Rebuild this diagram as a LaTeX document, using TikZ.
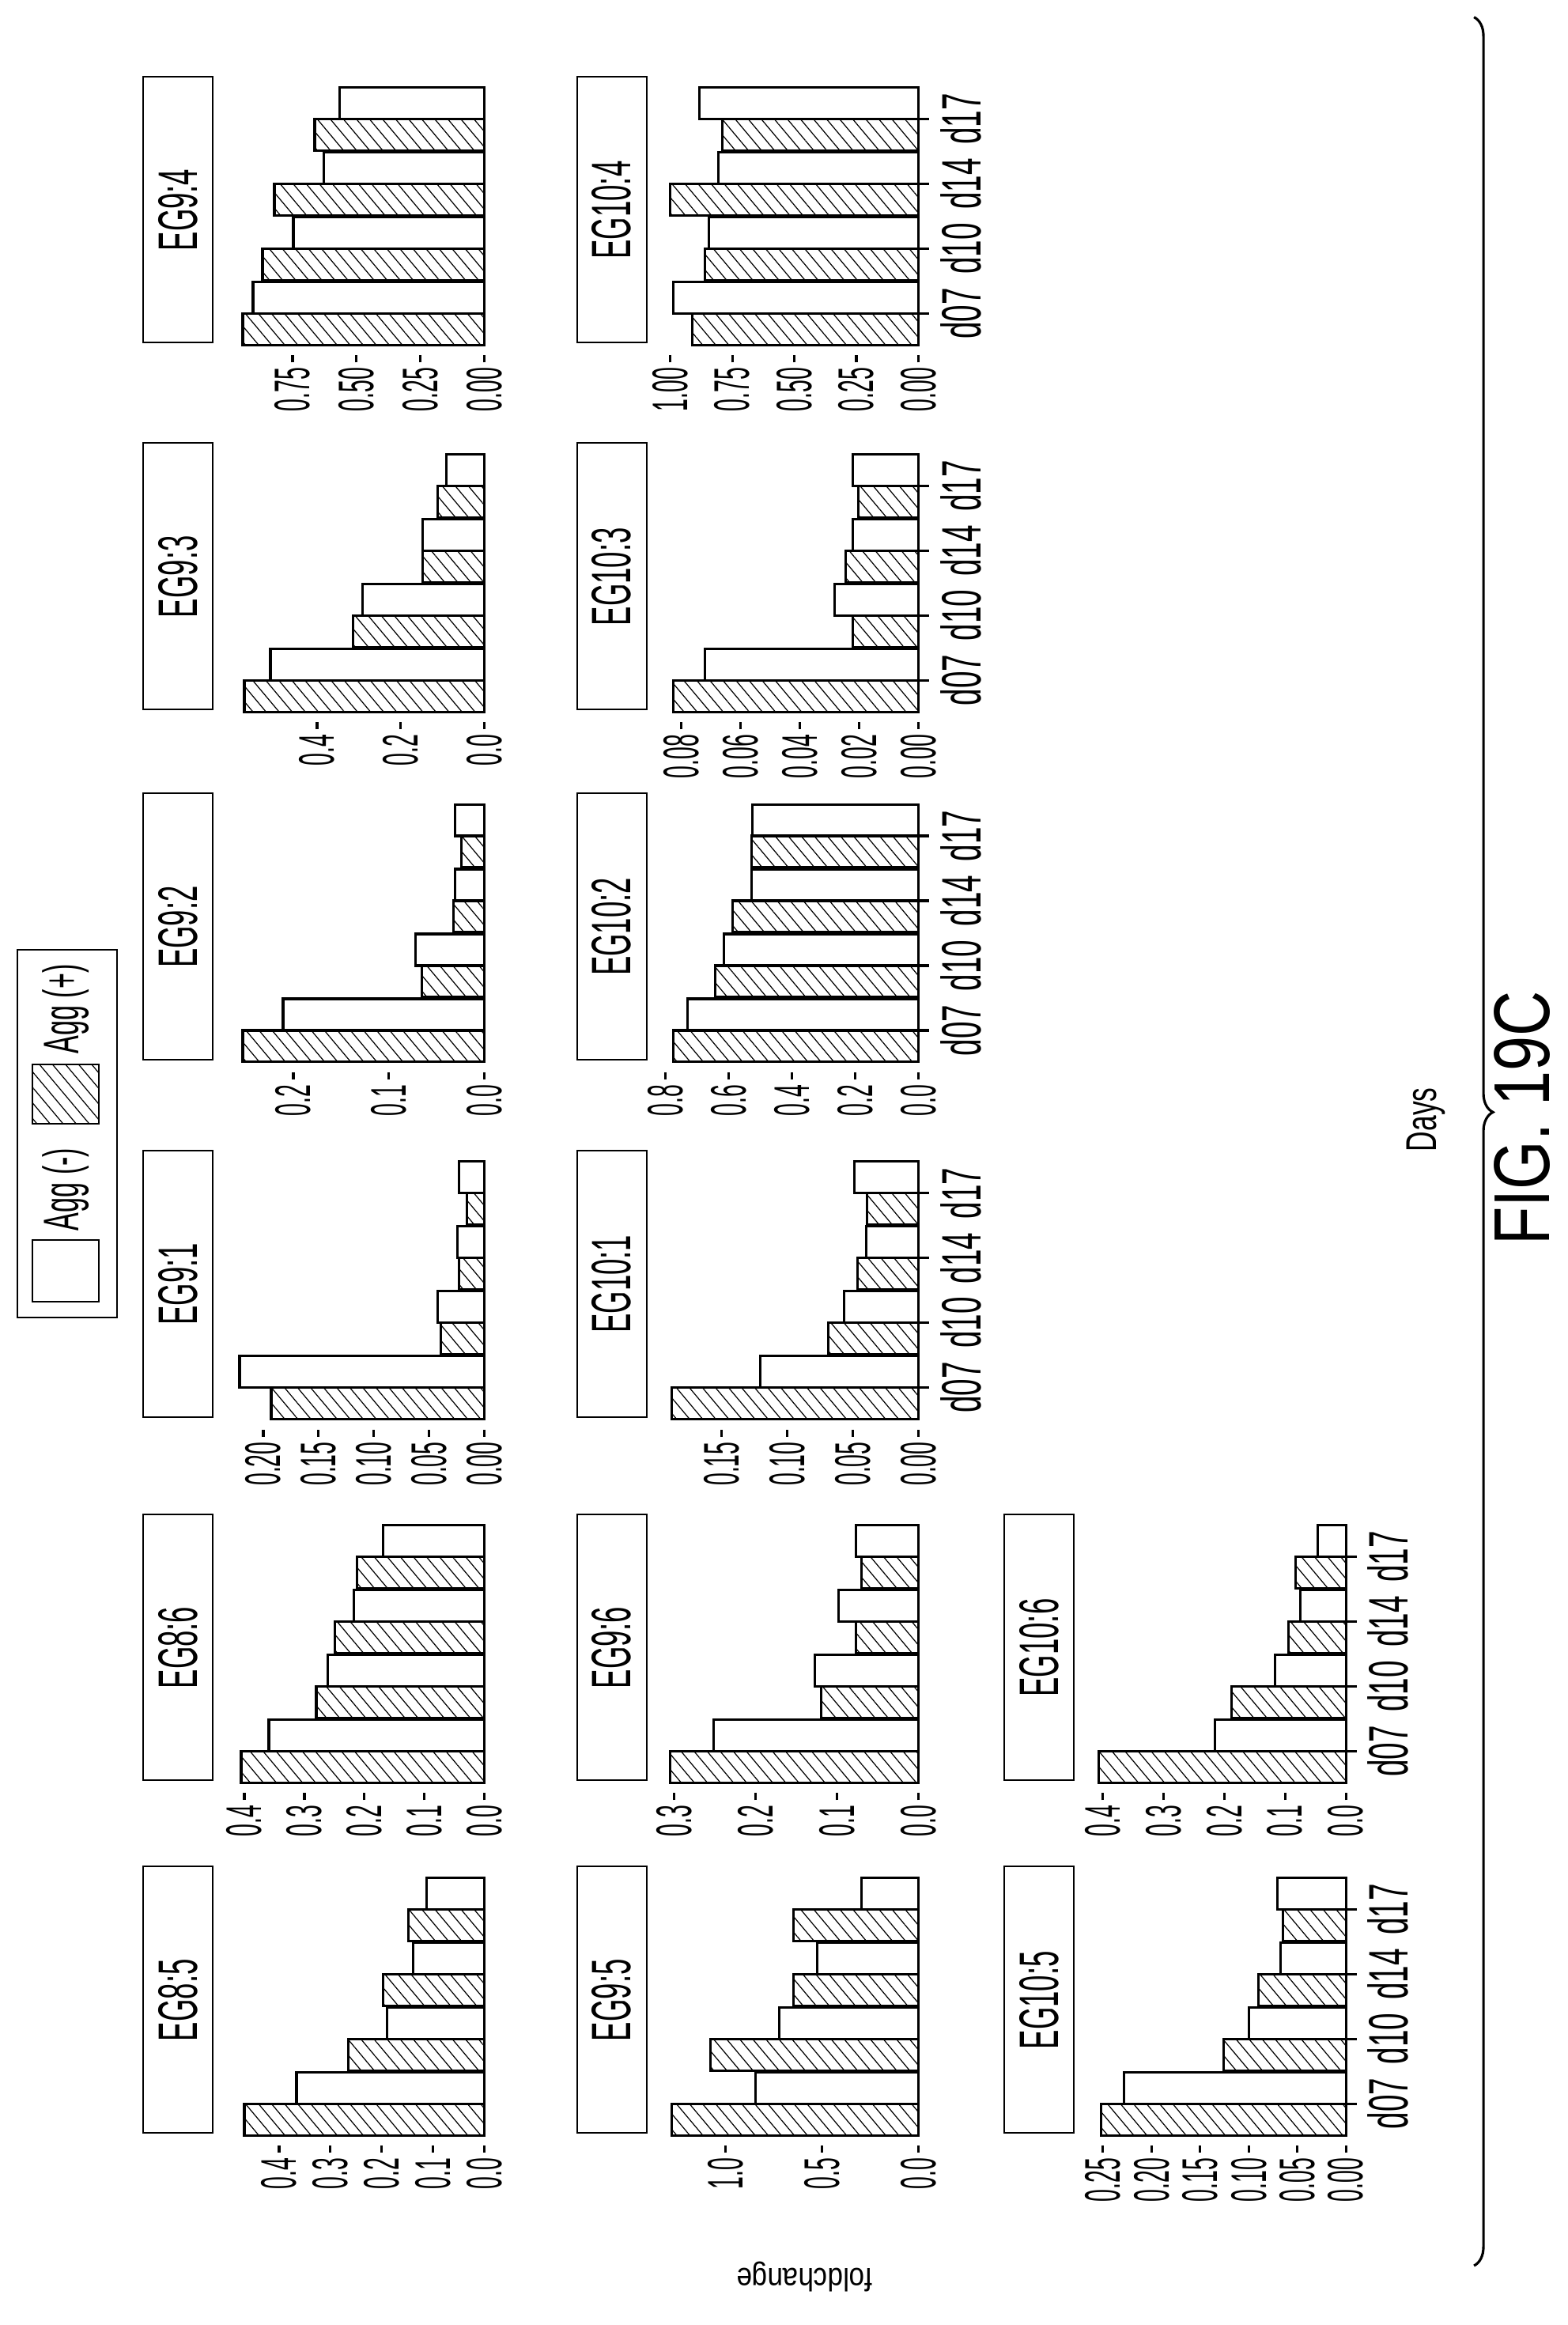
\documentclass[tikz,border=0pt]{standalone}
\usepackage{fontspec}
\setmainfont{Liberation Sans}
\usetikzlibrary{patterns.meta,decorations.pathreplacing}

\newcommand{\nar}[2]{\scalebox{#1}[1]{#2}}
% one facet: #1 left edge, #2 zero line, #3 name, #4 bar pairs (Agg+/Agg-), #5 tick step, #6 tick labels, #7 title
\newcommand{\egpanel}[7]{%
  \draw[stripbox] (#1,#2+344) rectangle (#1+337,#2+432);
  \node[striplbl] (#3-t) at (#1+168,#2+388) {\nar{0.52}{#7}};
  \foreach \a/\b [count=\k from 0] in {#4} {
    \draw[aggp] (#1-3+82*\k,#2) rectangle ++(40,\a);
    \draw[aggm] (#1+37+82*\k,#2) rectangle ++(40,\b);
  }
  \foreach \t [count=\j from 0] in {#6} {
    \draw[tickln] (#1-25,#2+\j*#5) -- ++(9,0);
    \node[ticklbl,anchor=east] (#3-y\j) at (#1-31,#2+\j*#5) {\nar{0.45}{\t}};
  }
}
% day axis under a facet
\newcommand{\egdays}[3]{%
  \foreach \d [count=\k from 0] in {d07,d10,d14,d17} {
    \draw[tickln] (#1+37+82*\k,#2) -- ++(0,-14);
    \node[daylbl,anchor=north] (#3-d\k) at (#1+37+82*\k,#2-27) {\nar{0.55}{\d}};
  }
}

\begin{document}
\begin{tikzpicture}[
    stripbox/.style={draw,line width=0.6pt},
    striplbl/.style={inner sep=0pt,font=\fontsize{20}{20}\selectfont},
    aggp/.style={draw,line width=0.9pt,pattern={Lines[angle=-50,distance=3.6pt,line width=0.35pt]}},
    aggm/.style={draw,line width=0.9pt,fill=white},
    tickln/.style={line width=0.9pt},
    ticklbl/.style={inner sep=0pt,font=\fontsize{18}{18}\selectfont},
    daylbl/.style={inner sep=0pt,font=\fontsize{20}{20}\selectfont}
  ]
  \useasboundingbox (0,0) rectangle (19.82,29.40);
  \begin{scope}[shift={(19.82,0)},rotate=90,x=0.01cm,y=0.01cm,
      every node/.append style={transform shape}]
    % legend
    \draw[stripbox] (1275,1835) rectangle (1740,1961);
    \draw[aggm,line width=0.6pt] (1295,1858) rectangle (1373,1942);
    \node[striplbl,font=\fontsize{18}{18}\selectfont] (legm) at (1437,1900) {\nar{0.54}{Agg (-)}};
    \draw[aggp,line width=0.6pt] (1520,1858) rectangle (1595,1942);
    \node[striplbl,font=\fontsize{18}{18}\selectfont] (legp) at (1665,1900) {\nar{0.54}{Agg (+)}};

    % first row
    \egpanel{243}{1370}{eg85}{304/238,172/123,128/90,96/73}{65}{0.0,0.1,0.2,0.3,0.4}{EG8:5}
    \egpanel{689}{1370}{eg86}{308/273,213/198,189/165,161/128}{76}{0.0,0.1,0.2,0.3,0.4}{EG8:6}
    \egpanel{1149}{1370}{eg91}{270/310,55/59,32/34,22/32}{70}{0.00,0.05,0.10,0.15,0.20}{EG9:1}
    \egpanel{1601}{1370}{eg92}{306/255,79/87,39/37,29/37}{121}{0.0,0.1,0.2}{EG9:2}
    \egpanel{2044}{1370}{eg93}{304/271,166/154,78/78,59/48}{106}{0.0,0.2,0.4}{EG9:3}
    \egpanel{2508}{1370}{eg94}{306/293,281/242,266/203,215/183}{81}{0.00,0.25,0.50,0.75}{EG9:4}
    % second row
    \egpanel{243}{821}{eg95}{312/206,263/176,158/128,158/72}{122}{0.0,0.5,1.0}{EG9:5}
    \egpanel{689}{821}{eg96}{314/259,123/131,79/101,72/79}{103}{0.0,0.1,0.2,0.3}{EG9:6}
    \egpanel{1149}{821}{eg101}{312/200,114/94,77/66,65/81}{83}{0.00,0.05,0.10,0.15}{EG10:1}
    \egpanel{1601}{821}{eg102}{310/292,257/246,235/211,211/210}{80}{0.0,0.2,0.4,0.6,0.8}{EG10:2}
    \egpanel{2044}{821}{eg103}{310/270,83/106,92/83,76/83}{75}{0.00,0.02,0.04,0.06,0.08}{EG10:3}
    \egpanel{2508}{821}{eg104}{286/310,270/265,314/253,248/277}{78.5}{0.00,0.25,0.50,0.75,1.00}{EG10:4}
    \egdays{1149}{821}{eg101}
    \egdays{1601}{821}{eg102}
    \egdays{2044}{821}{eg103}
    \egdays{2508}{821}{eg104}
    % third row
    \egpanel{243}{280}{eg105}{310/281,155/123,111/83,80/87}{61.5}{0.00,0.05,0.10,0.15,0.20,0.25}{EG10:5}
    \egpanel{689}{280}{eg106}{313/166,145/90,73/58,64/36}{77}{0.0,0.1,0.2,0.3,0.4}{EG10:6}
    \egdays{243}{280}{eg105}
    \egdays{689}{280}{eg106}

    \node[rotate=90,inner sep=0pt,font=\fontsize{11.6}{12}\selectfont] (ylab) at (61,965) {\nar{0.86}{foldchange}};
    \node[inner sep=0pt,font=\fontsize{15.5}{16}\selectfont] (xlab) at (1525,179) {\nar{0.65}{Days}};
    \coordinate (braceR) at (2920,118);
    \coordinate (braceL) at (75,118);
    \draw[line width=0.9pt,decorate,decoration={brace,amplitude=0.24cm,aspect=0.487}] (braceR) -- (braceL);
    \node[inner sep=0pt,font=\fontsize{28.5}{30}\selectfont] (fig) at (1527,57) {\nar{0.79}{FIG. 19C}};
  \end{scope}
\end{tikzpicture}
\end{document}
